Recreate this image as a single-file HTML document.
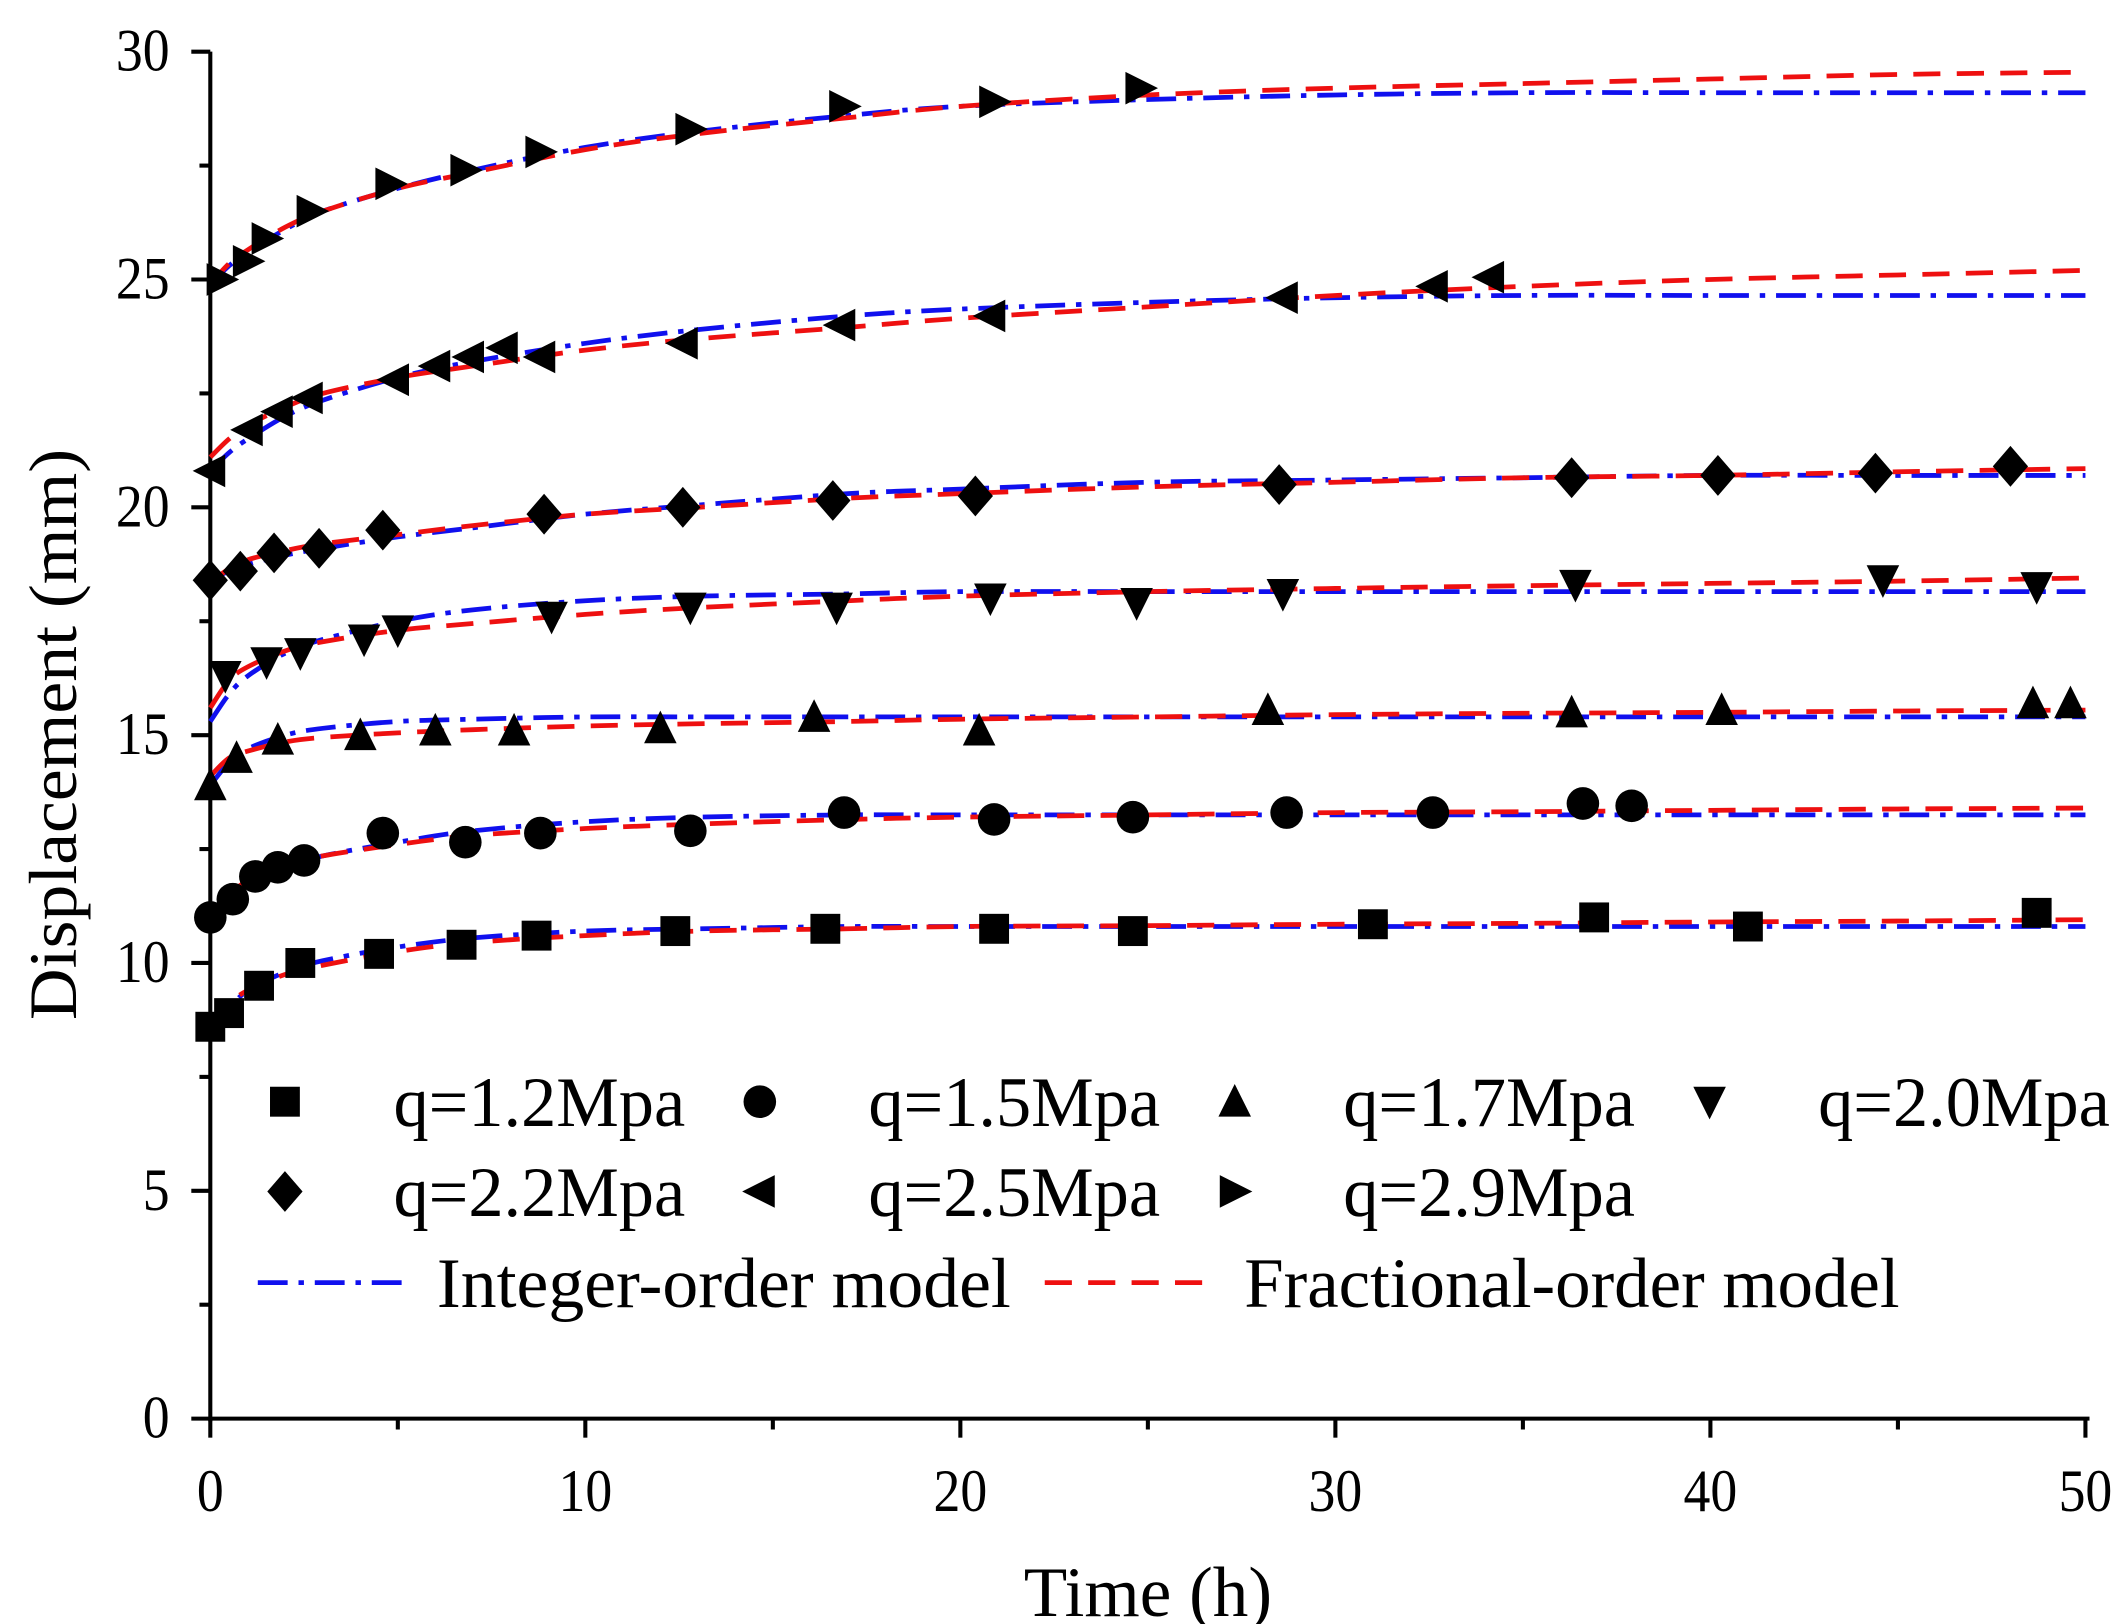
<!DOCTYPE html>
<html><head><meta charset="utf-8"><style>
html,body{margin:0;padding:0;background:#fff;}
svg{display:block;font-family:"Liberation Serif",serif;}
</style></head><body>
<svg id="chart" width="2118" height="1624" viewBox="0 0 1561 1194" preserveAspectRatio="none">
<g id="axes"></g>
<g id="curves"></g>
<g id="points"></g>
<g id="legend"></g>
<text transform="translate(56,540) rotate(-90)" text-anchor="middle" font-size="50" textLength="420" lengthAdjust="spacingAndGlyphs">Displacement (mm)</text>
<text x="846" y="1188" text-anchor="middle" font-size="52" textLength="183" lengthAdjust="spacingAndGlyphs">Time (h)</text>
</svg>
<script>
const xTicks=[0,10,20,30,40,50];
const yTicks=[0,5,10,15,20,25,30];
const seriesNames=["q=1.2Mpa","q=1.5Mpa","q=1.7Mpa","q=2.0Mpa","q=2.2Mpa","q=2.5Mpa","q=2.9Mpa"];
const seriesMarkers=["square","circle","up","down","diamond","left","right"];
const t12=[0,0.5,1.3,2.4,4.5,6.7,8.7,12.4,16.4,20.9,24.6,31,36.9,41,48.7];
const y12=[8.6,8.9,9.5,10.0,10.2,10.4,10.6,10.7,10.75,10.75,10.7,10.85,11.0,10.8,11.1];
const t15=[0,0.6,1.2,1.8,2.5,4.6,6.8,8.8,12.8,16.9,20.9,24.6,28.7,32.6,36.6,37.9];
const y15=[11.0,11.4,11.9,12.1,12.25,12.85,12.65,12.85,12.9,13.3,13.15,13.2,13.3,13.3,13.5,13.45];
const t17=[0,0.7,1.8,4,6,8.1,12,16.1,20.5,28.2,36.3,40.3,48.6,49.6];
const y17=[13.9,14.5,14.9,15.0,15.1,15.1,15.15,15.4,15.1,15.55,15.5,15.55,15.7,15.7];
const t20=[0.4,1.5,2.4,4.1,5.0,9.1,12.8,16.7,20.8,24.7,28.6,36.4,44.6,48.7];
const y20=[16.3,16.6,16.8,17.1,17.3,17.6,17.8,17.8,18.0,17.9,18.1,18.3,18.4,18.25];
const t22=[0,0.8,1.7,2.9,4.6,8.9,12.6,16.6,20.4,28.5,36.3,40.2,44.4,48];
const y22=[18.4,18.6,19.0,19.1,19.5,19.85,20.0,20.15,20.25,20.5,20.65,20.7,20.75,20.9];
const t25=[0,1.0,1.8,2.6,4.9,6.0,6.9,7.8,8.8,12.6,16.8,20.8,28.6,32.6,34.1];
const y25=[20.8,21.7,22.1,22.4,22.8,23.1,23.3,23.5,23.3,23.6,24.0,24.2,24.6,24.85,25.05];
const t29=[0.3,1.0,1.5,2.7,4.8,6.8,8.8,12.8,16.9,20.9,24.8];
const y29=[25.0,25.4,25.9,26.5,27.1,27.4,27.8,28.3,28.8,28.9,29.2];
const pointT=[t12,t15,t17,t20,t22,t25,t29];
const pointY=[y12,y15,y17,y20,y22,y25,y29];
const curveT=[0,0.5,1,2,3,5,7,10,13,17,20,25,30,35,40,45,50];
const int12=[8.6,9.0,9.4,9.8,10.05,10.35,10.55,10.7,10.75,10.8,10.8,10.8,10.8,10.8,10.8,10.8,10.8];
const frac12=[8.6,9.1,9.4,9.75,9.95,10.25,10.45,10.6,10.7,10.75,10.8,10.82,10.85,10.87,10.9,10.92,10.95];
const int15=[11.0,11.4,11.7,12.1,12.35,12.65,12.9,13.1,13.2,13.25,13.25,13.25,13.25,13.25,13.25,13.25,13.25];
const frac15=[11.0,11.5,11.8,12.15,12.35,12.6,12.8,12.95,13.05,13.15,13.2,13.25,13.3,13.32,13.35,13.38,13.4];
const int17=[13.9,14.4,14.7,15.0,15.15,15.3,15.35,15.4,15.4,15.4,15.4,15.4,15.4,15.4,15.4,15.4,15.4];
const frac17=[14.1,14.5,14.65,14.85,14.95,15.05,15.12,15.2,15.25,15.3,15.35,15.4,15.45,15.48,15.5,15.53,15.55];
const int20=[15.3,15.9,16.3,16.8,17.1,17.5,17.75,17.95,18.05,18.1,18.15,18.15,18.15,18.15,18.15,18.15,18.15];
const frac20=[15.6,16.2,16.5,16.85,17.05,17.3,17.45,17.65,17.8,17.95,18.05,18.15,18.22,18.28,18.33,18.38,18.45];
const int22=[18.4,18.6,18.75,18.95,19.1,19.35,19.55,19.85,20.05,20.3,20.4,20.55,20.6,20.65,20.7,20.7,20.7];
const frac22=[18.35,18.65,18.85,19.05,19.2,19.4,19.6,19.85,20.0,20.2,20.3,20.45,20.55,20.65,20.7,20.78,20.85];
const int25=[20.8,21.2,21.5,22.0,22.35,22.85,23.2,23.6,23.9,24.2,24.35,24.5,24.6,24.65,24.65,24.65,24.65];
const frac25=[21.1,21.5,21.8,22.2,22.5,22.85,23.1,23.45,23.7,23.95,24.15,24.4,24.65,24.85,25.0,25.1,25.2];
const int29=[24.9,25.3,25.6,26.1,26.5,27.0,27.4,27.9,28.25,28.6,28.8,28.95,29.05,29.1,29.1,29.1,29.1];
const frac29=[24.9,25.35,25.65,26.15,26.5,27.0,27.35,27.85,28.2,28.55,28.8,29.05,29.2,29.3,29.4,29.5,29.55];
const intCurves=[int12,int15,int17,int20,int22,int25,int29];
const fracCurves=[frac12,frac15,frac17,frac20,frac22,frac25,frac29];

const NS="http://www.w3.org/2000/svg";
const X0=155,X1=1537,Y0=1043,Y1=38;
function sx(t){return X0+(t-0)/(50-0)*(X1-X0);}
function sy(v){return Y0-(v-0)/(30-0)*(Y0-Y1);}
function mk(tag,attrs,parent){const e=document.createElementNS(NS,tag);for(const k in attrs)e.setAttribute(k,attrs[k]);parent.appendChild(e);return e;}
const axes=document.getElementById('axes');
let e=mk('line',{x1:X0,y1:Y1,x2:X0,y2:Y0+2,stroke:'#000','stroke-width':3},axes);


e=mk('line',{x1:X0-1,y1:Y0,x2:X1+3,y2:Y0,stroke:'#000','stroke-width':3},axes);


for(let i=0;i<xTicks.length;i++){
  const x=sx(xTicks[i]);
  e=mk('line',{x1:x,y1:Y0,x2:x,y2:Y0+14,stroke:'#000','stroke-width':3},axes);
  
  
  e=mk('text',{x:x,y:Y0+68,'text-anchor':'middle','font-size':44,transform:'translate('+x+',0) scale(0.9,1) translate('+(-x)+',0)'},axes);
  e.textContent=xTicks[i];
  
  
  if(i<xTicks.length-1){
    const xm=sx((xTicks[i]+xTicks[i+1])/2);
    e=mk('line',{x1:xm,y1:Y0,x2:xm,y2:Y0+8,stroke:'#000','stroke-width':3},axes);
    
    
  }
}
for(let i=0;i<yTicks.length;i++){
  const y=sy(yTicks[i]);
  e=mk('line',{x1:X0-14,y1:y,x2:X0,y2:y,stroke:'#000','stroke-width':3},axes);
  
  
  e=mk('text',{x:X0-30,y:y+14,'text-anchor':'end','font-size':44,transform:'translate('+(X0-30)+',0) scale(0.9,1) translate('+(-(X0-30))+',0)'},axes);
  e.textContent=yTicks[i];
  
  
  if(i<yTicks.length-1){
    const ym=sy((yTicks[i]+yTicks[i+1])/2);
    e=mk('line',{x1:X0-8,y1:ym,x2:X0,y2:ym,stroke:'#000','stroke-width':3},axes);
    
    
  }
}
function smoothPath(ts,vs){
  const p=ts.map((t,i)=>[sx(t),sy(vs[i])]);
  let d='M'+p[0][0]+','+p[0][1];
  for(let i=0;i<p.length-1;i++){
    const p0=p[i-1]||p[i],p1=p[i],p2=p[i+1],p3=p[i+2]||p2;
    const c1=[p1[0]+(p2[0]-p0[0])/6,p1[1]+(p2[1]-p0[1])/6];
    const c2=[p2[0]-(p3[0]-p1[0])/6,p2[1]-(p3[1]-p1[1])/6];
    d+=' C'+c1+' '+c2+' '+p2;
  }
  return d;
}
const curves=document.getElementById('curves');
for(let s=0;s<intCurves.length;s++){
  e=mk('path',{d:smoothPath(curveT,intCurves[s]),fill:'none',stroke:'#1010ee','stroke-width':3.5,'stroke-dasharray':'22 8 4 8'},curves);
  
  
  e=mk('path',{d:smoothPath(curveT,fracCurves[s]),fill:'none',stroke:'#ee1010','stroke-width':3.5,'stroke-dasharray':'20 12'},curves);
  
  
}
function marker(type,x,y,parent){
  const r=11;let el;
  if(type==='square')el=mk('rect',{x:x-r,y:y-r,width:2*r,height:2*r,fill:'#000'},parent);
  else if(type==='circle')el=mk('circle',{cx:x,cy:y,r:r+1,fill:'#000'},parent);
  else{
    let pts;
    if(type==='up')pts=[[x,y-r-2],[x-r-1,y+r],[x+r+1,y+r]];
    else if(type==='down')pts=[[x,y+r+2],[x-r-1,y-r],[x+r+1,y-r]];
    else if(type==='left')pts=[[x-r-2,y],[x+r,y-r-1],[x+r,y+r+1]];
    else if(type==='right')pts=[[x+r+2,y],[x-r,y-r-1],[x-r,y+r+1]];
    else pts=[[x,y-r-4],[x+r+2,y],[x,y+r+4],[x-r-2,y]];
    el=mk('polygon',{points:pts.map(p=>p.join(',')).join(' '),fill:'#000'},parent);
  }
  return el;
}
const pts=document.getElementById('points');
for(let s=0;s<pointT.length;s++){
  for(let i=0;i<pointT[s].length;i++){
    e=marker(seriesMarkers[s],sx(pointT[s][i]),sy(pointY[s][i]),pts);
    
    
  }
}
const leg=document.getElementById('legend');
const colX=[210,560,910,1260],rowY=[810,876];
for(let s=0;s<seriesNames.length;s++){
  const cx=colX[s%4],cy=rowY[Math.floor(s/4)];
  e=marker(seriesMarkers[s],cx,cy,leg);
  
  
  e=mk('text',{x:cx+80,y:cy+18,'font-size':52,textLength:215,lengthAdjust:'spacingAndGlyphs'},leg);
  e.textContent=seriesNames[s];
  
  
}
e=mk('line',{x1:190,y1:943,x2:300,y2:943,stroke:'#1010ee','stroke-width':3.5,'stroke-dasharray':'22 8 4 8'},leg);


e=mk('text',{x:322,y:961,'font-size':52,textLength:423,lengthAdjust:'spacingAndGlyphs'},leg);
e.textContent='Integer-order model';


e=mk('line',{x1:770,y1:943,x2:892,y2:943,stroke:'#ee1010','stroke-width':3.5,'stroke-dasharray':'20 12'},leg);


e=mk('text',{x:917,y:961,'font-size':52,textLength:483,lengthAdjust:'spacingAndGlyphs'},leg);
e.textContent='Fractional-order model';


</script>
</body></html>
